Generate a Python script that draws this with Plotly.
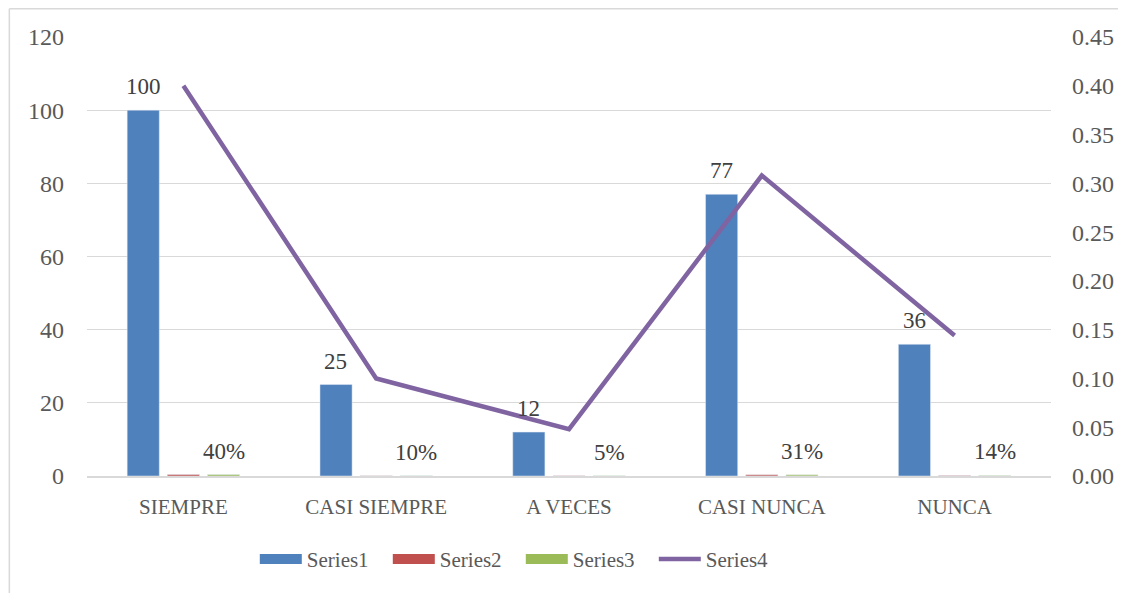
import plotly.graph_objects as go

categories = ['SIEMPRE', 'CASI SIEMPRE', 'A VECES', 'CASI NUNCA', 'NUNCA']
series1 = [100, 25, 12, 77, 36]
series2 = [0.4, 0.1, 0.048, 0.308, 0.144]
series3 = [0.4, 0.1, 0.048, 0.308, 0.144]
series4 = [0.4, 0.1, 0.048, 0.308, 0.144]

FONT = 'Liberation Serif'
GREY = '#595959'
LABEL = '#404040'
COLORS = ['#4f81bd', '#c0504d', '#9bbb59', '#8064a2']

# the page body has an 8px margin, so the figure is drawn 8px in from the window corner
W, H = 1118, 585
ML, MR, MT, MB = 78.5, 74.5, 29, 117
BARGAP = 0.375
plot_w = W - ML - MR
plot_h = H - MT - MB
slot = plot_w / len(categories) * (1 - BARGAP) / 3

fig = go.Figure()
for name, vals, col in zip(['Series1', 'Series2', 'Series3'], [series1, series2, series3], COLORS):
    fig.add_trace(go.Bar(x=categories, y=vals, name=name, marker_color=col, showlegend=False))
fig.add_trace(go.Scatter(
    x=categories, y=series4, name='Series4', mode='lines',
    line=dict(color=COLORS[3], width=4.5), yaxis='y2', showlegend=False
))

# legend entries drawn as wide swatches, like the original
for i, name in enumerate(['Series1', 'Series2', 'Series3', 'Series4']):
    fig.add_trace(go.Scatter(
        x=[None], y=[None], mode='lines', name=name,
        line=dict(color=COLORS[i], width=4.5 if i == 3 else 13)
    ))

# data labels: counts above Series1, percentages above Series3
for c, v in zip(categories, series1):
    fig.add_annotation(x=c, y=v, text=str(v), showarrow=False, yanchor='bottom',
                       yshift=9, xshift=-slot, font=dict(family=FONT, size=23, color=LABEL))
for c, v in zip(categories, series3):
    fig.add_annotation(x=c, y=v, text=f'{v:.0%}', showarrow=False, yanchor='bottom',
                       yshift=9, xshift=slot, font=dict(family=FONT, size=23, color=LABEL))

# chart border (only top and left edges fall inside the picture)
bx = (0.75 - ML) / plot_w
by = 1 + (MT - 0.75) / plot_h
border = dict(type='line', xref='paper', yref='paper', line=dict(color='#d9d9d9', width=1.5))
fig.add_shape(x0=bx, x1=1.2, y0=by, y1=by, **border)
fig.add_shape(x0=bx, x1=bx, y0=by, y1=-0.4, **border)

fig.update_layout(
    width=W, height=H,
    margin=dict(l=ML, r=MR, t=MT, b=MB),
    paper_bgcolor='white', plot_bgcolor='white',
    font=dict(family=FONT, size=21, color=GREY),
    barmode='group', bargap=BARGAP, bargroupgap=0.2,
    xaxis=dict(
        showline=True, linecolor='#d9d9d9', linewidth=1.5,
        ticks='', ticklabelstandoff=11,
        tickfont=dict(family=FONT, size=21, color=GREY)
    ),
    yaxis=dict(
        range=[0, 120], dtick=20, showgrid=True, gridcolor='#d9d9d9',
        zeroline=False, ticks='', ticklabelstandoff=22,
        tickfont=dict(family=FONT, size=24, color=GREY)
    ),
    yaxis2=dict(
        range=[0, 0.45], dtick=0.05, tickformat='.2f', overlaying='y',
        side='right', showgrid=False, zeroline=False, ticks='',
        ticklabelstandoff=20,
        tickfont=dict(family=FONT, size=24, color=GREY)
    ),
    showlegend=True,
    legend=dict(
        orientation='h', x=0.45, xanchor='center', y=-0.19, yanchor='middle',
        font=dict(family=FONT, size=21, color=GREY),
        itemwidth=42, entrywidth=76, entrywidthmode='pixels',
        bgcolor='rgba(0,0,0,0)'
    )
)

fig.write_html('out.html')
